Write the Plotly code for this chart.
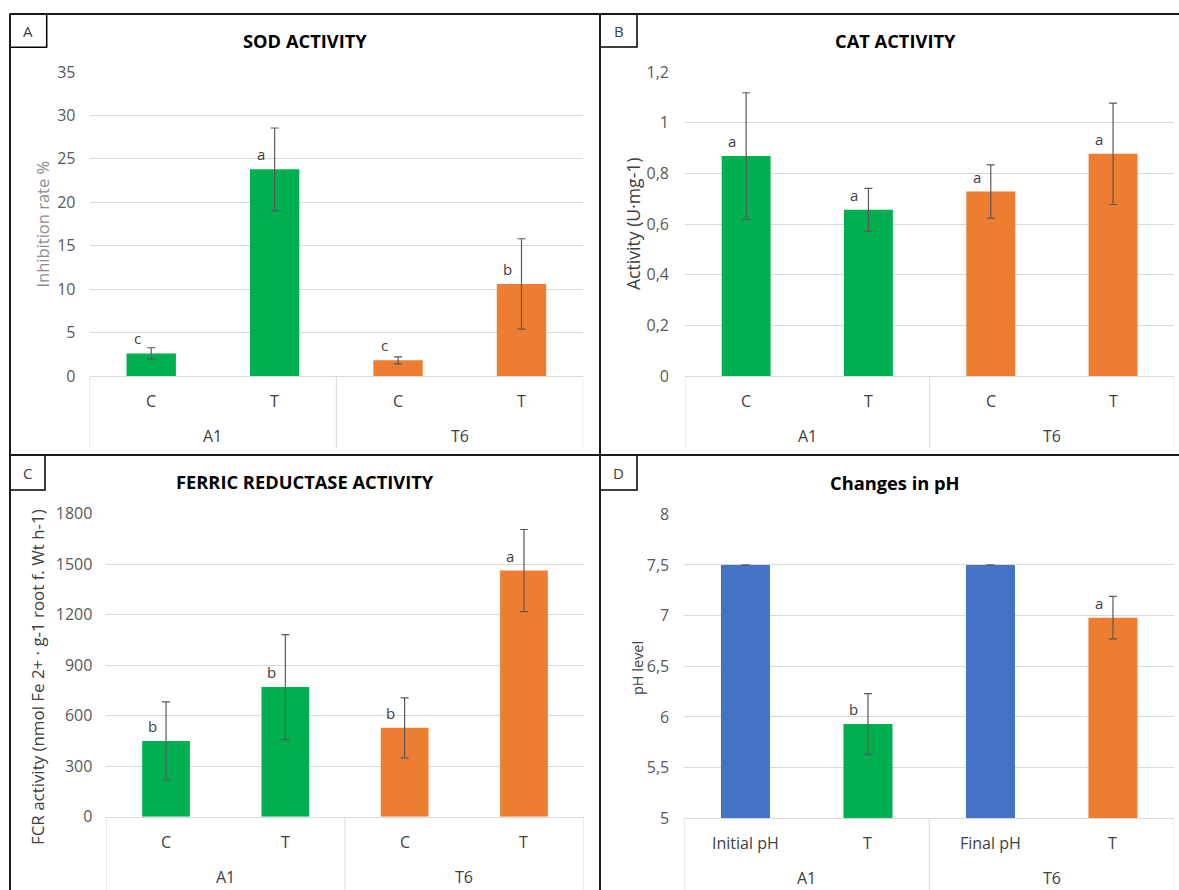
import plotly.graph_objects as go

W, H = 1179, 890

# ---------------- data ----------------
categories = ["C", "T", "C", "T"]
ph_categories = ["Initial pH", "T", "Final pH", "T"]
groups = ["A1", "T6"]

sod_values = [2.6, 23.8, 1.8, 10.6]
sod_errors = [0.65, 4.75, 0.4, 5.2]
sod_letters = ["c", "a", "c", "b"]

cat_values = [0.868, 0.656, 0.728, 0.877]
cat_errors = [0.25, 0.085, 0.105, 0.20]
cat_letters = ["a", "a", "a", "a"]

fcr_values = [450, 770, 528, 1462]
fcr_errors = [232, 312, 178, 244]
fcr_letters = ["b", "b", "b", "a"]

ph_values = [7.5, 5.93, 7.5, 6.98]
ph_errors = [None, 0.30, None, 0.21]
ph_letters = ["", "b", "", "a"]

bar_colors = ["#00b050", "#00b050", "#ed7d31", "#ed7d31"]
ph_colors = ["#4472c4", "#00b050", "#4472c4", "#ed7d31"]

sod_ticks = [0, 5, 10, 15, 20, 25, 30, 35]
sod_ticklabels = ["0", "5", "10", "15", "20", "25", "30", "35"]
cat_ticks = [0, 0.2, 0.4, 0.6, 0.8, 1.0, 1.2]
cat_ticklabels = ["0", "0,2", "0,4", "0,6", "0,8", "1", "1,2"]
fcr_ticks = [0, 300, 600, 900, 1200, 1500, 1800]
fcr_ticklabels = ["0", "300", "600", "900", "1200", "1500", "1800"]
ph_ticks = [5, 5.5, 6, 6.5, 7, 7.5, 8]
ph_ticklabels = ["5", "5,5", "6", "6,5", "7", "7,5", "8"]

FONT = "Open Sans"
GRID = "#d9d9d9"
TXT = "#595959"
DARK = "#404040"


def px(x):
    return x / W


def py(y):
    return 1 - y / H


panels = [
    dict(key="", title="SOD ACTIVITY", letter="A", ytitle="Inhibition rate %", ytitle_color="#8c8c8c",
         ytitle_size=16.5, standoff=13,
         cats=categories, values=sod_values, errors=sod_errors, letters=sod_letters, colors=bar_colors,
         ticks=sod_ticks, ticklabels=sod_ticklabels, yrange=[0, 35],
         x0=89.5, x1=583.2, ybase=376, ytop=72, catbottom=448,
         title_xy=(304.8, 40), ytitle_xy=(41.5, 224),
         box=(10, 14, 46.7, 47.3)),
    dict(key="2", title="CAT ACTIVITY", letter="B", ytitle="Activity (U·mg-1)", ytitle_color=DARK,
         ytitle_size=17.6, standoff=15,
         cats=categories, values=cat_values, errors=cat_errors, letters=cat_letters, colors=bar_colors,
         ticks=cat_ticks, ticklabels=cat_ticklabels, yrange=[0, 1.2],
         x0=685, x1=1174.2, ybase=376, ytop=72, catbottom=448,
         title_xy=(895.8, 40), ytitle_xy=(633, 224),
         box=(600, 14, 637, 47)),
    dict(key="3", title="FERRIC REDUCTASE ACTIVITY", letter="C",
         ytitle="FCR activity (nmol Fe 2+ · g-1 root f. Wt h-1)", ytitle_color=DARK,
         ytitle_size=16.9, standoff=13,
         cats=categories, values=fcr_values, errors=fcr_errors, letters=fcr_letters, colors=bar_colors,
         ticks=fcr_ticks, ticklabels=fcr_ticklabels, yrange=[0, 1800],
         x0=106.4, x1=583.6, ybase=816.7, ytop=513.7, catbottom=890,
         title_xy=(305.2, 481), ytitle_xy=(37, 677),
         box=(10, 455, 45, 490)),
    dict(key="4", title="Changes in pH", letter="D", ytitle="pH level", ytitle_color=DARK,
         ytitle_size=14.5, standoff=14,
         cats=ph_categories, values=ph_values, errors=ph_errors, letters=ph_letters, colors=ph_colors,
         ticks=ph_ticks, ticklabels=ph_ticklabels, yrange=[5, 8],
         x0=684.2, x1=1174.2, ybase=818.3, ytop=514.3, catbottom=890,
         title_xy=(895, 482), ytitle_xy=(637, 668),
         box=(600, 455, 637, 490)),
]

fig = go.Figure()
annotations = []
shapes = []

for p in panels:
    k = p["key"]
    xref = "x" + k
    yref = "y" + k
    n = len(p["cats"])
    xs = list(range(n))
    err = [e if e is not None else float("nan") for e in p["errors"]]
    fig.add_trace(go.Bar(
        x=xs, y=p["values"], xaxis=xref, yaxis=yref, width=0.4,
        marker=dict(color=p["colors"], line=dict(width=0)),
        error_y=dict(type="data", array=err, visible=True, color="#595959", thickness=1.2, width=4),
        showlegend=False, hoverinfo="skip",
    ))
    fig.layout["xaxis" + k] = dict(
        domain=[px(p["x0"]), px(p["x1"])], range=[-0.5, n - 0.5], anchor=yref,
        showticklabels=False, showgrid=False, zeroline=False, showline=True,
        linecolor=GRID, linewidth=1, fixedrange=True, automargin=False,
    )
    fig.layout["yaxis" + k] = dict(
        domain=[py(p["ybase"]), py(p["ytop"])], range=p["yrange"], anchor=xref,
        tickvals=p["ticks"], ticktext=p["ticklabels"], showgrid=True, gridcolor=GRID, gridwidth=1,
        zeroline=False, showline=False, ticks="", ticklabelstandoff=p["standoff"],
        tickfont=dict(family=FONT, size=16, color=TXT), fixedrange=True, automargin=False,
    )
    # letters above bars
    for i, (v, t) in enumerate(zip(p["values"], p["letters"])):
        if t:
            annotations.append(dict(x=i, y=v, xref=xref, yref=yref, text=t, showarrow=False,
                                    xshift=-14, yshift=15, yanchor="middle",
                                    font=dict(family=FONT, size=15, color=DARK)))
    # category labels
    for i, c in enumerate(p["cats"]):
        annotations.append(dict(x=i, y=py(p["ybase"] + 25), xref=xref, yref="paper", text=c,
                                showarrow=False, yanchor="middle",
                                font=dict(family=FONT, size=16, color=DARK)))
    # group labels and dividers
    per = n // len(groups)
    for g, name in enumerate(groups):
        annotations.append(dict(x=g * per + (per - 1) / 2, y=py(p["ybase"] + 60), xref=xref, yref="paper",
                                text=name, showarrow=False, yanchor="middle",
                                font=dict(family=FONT, size=16, color=DARK)))
    for b in range(len(groups) + 1):
        xb = b * per - 0.5
        shapes.append(dict(type="line", xref=xref, yref="paper", x0=xb, x1=xb,
                           y0=py(p["ybase"]), y1=py(p["catbottom"]), line=dict(color=GRID, width=1)))
    # panel title
    annotations.append(dict(x=px(p["title_xy"][0]), y=py(p["title_xy"][1]), xref="paper", yref="paper",
                            text="<b>" + p["title"] + "</b>", showarrow=False, xanchor="center",
                            yanchor="middle", font=dict(family=FONT, size=18.3, color="#000000")))
    # y-axis title
    annotations.append(dict(x=px(p["ytitle_xy"][0]), y=py(p["ytitle_xy"][1]), xref="paper", yref="paper",
                            text=p["ytitle"], showarrow=False, textangle=-90, xanchor="center",
                            yanchor="middle", font=dict(family=FONT, size=p["ytitle_size"],
                                                        color=p["ytitle_color"])))
    # panel letter box
    bx0, by0, bx1, by1 = p["box"]
    shapes.append(dict(type="rect", xref="paper", yref="paper", x0=px(bx0), x1=px(bx1),
                       y0=py(by0), y1=py(by1), line=dict(color="#000000", width=1.5)))
    annotations.append(dict(x=px((bx0 + bx1) / 2), y=py((by0 + by1) / 2), xref="paper", yref="paper",
                            text=p["letter"], showarrow=False, xanchor="center", yanchor="middle",
                            font=dict(family=FONT, size=15, color=DARK)))

# outer frame lines
frame = [(10, 14, 1179, 14), (10, 14, 10, 890), (600, 14, 600, 890), (10, 455, 1179, 455)]
for x0, y0, x1, y1 in frame:
    shapes.append(dict(type="line", xref="paper", yref="paper", x0=px(x0), x1=px(x1), y0=py(y0), y1=py(y1),
                       line=dict(color="#1a1a1a", width=2)))

fig.update_layout(
    width=W, height=H, margin=dict(l=0, r=0, t=0, b=0, autoexpand=False),
    paper_bgcolor="white", plot_bgcolor="white",
    annotations=annotations, shapes=shapes, bargap=0.6,
    font=dict(family=FONT),
)

fig.write_html("out.html", config={"displayModeBar": False})
